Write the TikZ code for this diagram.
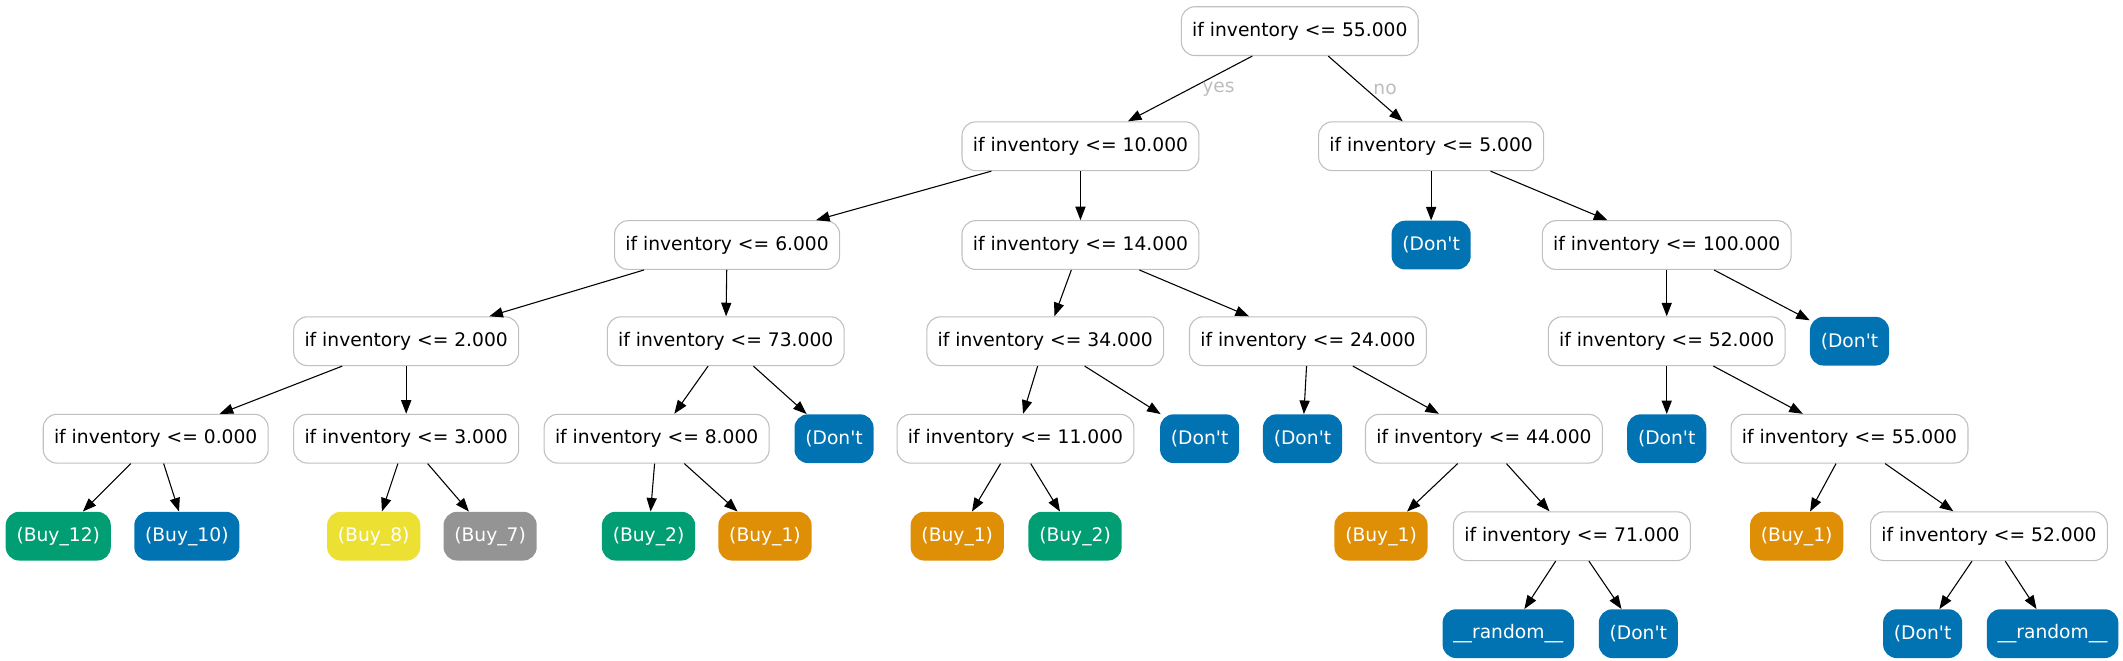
\documentclass[tikz,border=0pt]{standalone}
\usepackage{fontspec}
\newfontfamily\dv{DejaVu Sans}
\usetikzlibrary{arrows.meta}
\definecolor{cgreen}{HTML}{029E73}
\definecolor{cblue}{HTML}{0173B2}
\definecolor{cyellow}{HTML}{ECE133}
\definecolor{cgray}{HTML}{949494}
\definecolor{corange}{HTML}{DE8F05}
\definecolor{border}{HTML}{C0C0C0}
\definecolor{lblgray}{HTML}{BDBDBD}
\tikzset{
  base/.style={rounded corners=10pt, minimum height=36pt, inner xsep=8pt, inner ysep=0pt,
    font=\dv\fontsize{13.8}{16}\selectfont},
  dec/.style={base, draw=border, line width=0.8pt, fill=white, text=black},
  leaf/.style={base, fill=#1, text=white},
  edge/.style={draw=black, line width=0.8pt, -{Triangle[length=10pt,width=7.5pt]}},
  lbl/.style={text=lblgray, font=\dv\fontsize{13.8}{16}\selectfont, inner sep=0pt}
}
\begin{document}
\begin{tikzpicture}[x=1pt,y=-1pt]
\useasboundingbox (0,-2) rectangle (1568,486);
% row 0
\node[dec] (r0) at (960,21) {if inventory <= 55.000};
% row 1
\node[dec] (a) at (798,106) {if inventory <= 10.000};
\node[dec] (b) at (1057,106) {if inventory <= 5.000};
% row 2
\node[dec] (a1) at (537,179) {if inventory <= 6.000};
\node[dec] (a2) at (798,179) {if inventory <= 14.000};
\node[leaf=cblue] (b1) at (1057,179) {(Don't};
\node[dec] (b2) at (1231,179) {if inventory <= 100.000};
% row 3
\node[dec] (a11) at (300,250) {if inventory <= 2.000};
\node[dec] (a12) at (536,250) {if inventory <= 73.000};
\node[dec] (a21) at (772,250) {if inventory <= 34.000};
\node[dec] (a22) at (966,250) {if inventory <= 24.000};
\node[dec] (b21) at (1231,250) {if inventory <= 52.000};
\node[leaf=cblue] (b22) at (1366,250) {(Don't};
% row 4
\node[dec] (a111) at (115,322) {if inventory <= 0.000};
\node[dec] (a112) at (300,322) {if inventory <= 3.000};
\node[dec] (a121) at (485,322) {if inventory <= 8.000};
\node[leaf=cblue] (a122) at (616,322) {(Don't};
\node[dec] (a211) at (750,322) {if inventory <= 11.000};
\node[leaf=cblue] (a212) at (886,322) {(Don't};
\node[leaf=cblue] (a221) at (962,322) {(Don't};
\node[dec] (a222) at (1096,322) {if inventory <= 44.000};
\node[leaf=cblue] (b211) at (1231,322) {(Don't};
\node[dec] (b212) at (1366,322) {if inventory <= 55.000};
% row 5
\node[leaf=cgreen] (l1) at (43,394) {(Buy\_12)};
\node[leaf=cblue] (l2) at (138,394) {(Buy\_10)};
\node[leaf=cyellow] (l3) at (276,394) {(Buy\_8)};
\node[leaf=cgray] (l4) at (362,394) {(Buy\_7)};
\node[leaf=cgreen] (l5) at (479,394) {(Buy\_2)};
\node[leaf=corange] (l6) at (565,394) {(Buy\_1)};
\node[leaf=corange] (l7) at (707,394) {(Buy\_1)};
\node[leaf=cgreen] (l8) at (794,394) {(Buy\_2)};
\node[leaf=corange] (l9) at (1020,394) {(Buy\_1)};
\node[dec] (a2222) at (1161,394) {if inventory <= 71.000};
\node[leaf=corange] (l10) at (1327,394) {(Buy\_1)};
\node[dec] (b2122) at (1469,394) {if inventory <= 52.000};
% row 6
\node[leaf=cblue] (q1) at (1114,466) {\_\_random\_\_};
\node[leaf=cblue] (q2) at (1210,466) {(Don't};
\node[leaf=cblue] (q3) at (1420,466) {(Don't};
\node[leaf=cblue] (q4) at (1516,466) {\_\_random\_\_};
% edges
\draw[edge] (r0) -- (a);
\draw[edge] (r0) -- (b);
\node[lbl] (yes) at (900,64) {yes};
\node[lbl] (no) at (1023,64) {no};
\draw[edge] (a) -- (a1);
\draw[edge] (a) -- (a2);
\draw[edge] (b) -- (b1);
\draw[edge] (b) -- (b2);
\draw[edge] (a1) -- (a11);
\draw[edge] (a1) -- (a12);
\draw[edge] (a2) -- (a21);
\draw[edge] (a2) -- (a22);
\draw[edge] (b2) -- (b21);
\draw[edge] (b2) -- (b22);
\draw[edge] (a11) -- (a111);
\draw[edge] (a11) -- (a112);
\draw[edge] (a12) -- (a121);
\draw[edge] (a12) -- (a122);
\draw[edge] (a21) -- (a211);
\draw[edge] (a21) -- (a212);
\draw[edge] (a22) -- (a221);
\draw[edge] (a22) -- (a222);
\draw[edge] (b21) -- (b211);
\draw[edge] (b21) -- (b212);
\draw[edge] (a111) -- (l1);
\draw[edge] (a111) -- (l2);
\draw[edge] (a112) -- (l3);
\draw[edge] (a112) -- (l4);
\draw[edge] (a121) -- (l5);
\draw[edge] (a121) -- (l6);
\draw[edge] (a211) -- (l7);
\draw[edge] (a211) -- (l8);
\draw[edge] (a222) -- (l9);
\draw[edge] (a222) -- (a2222);
\draw[edge] (b212) -- (l10);
\draw[edge] (b212) -- (b2122);
\draw[edge] (a2222) -- (q1);
\draw[edge] (a2222) -- (q2);
\draw[edge] (b2122) -- (q3);
\draw[edge] (b2122) -- (q4);
\end{tikzpicture}
\end{document}
